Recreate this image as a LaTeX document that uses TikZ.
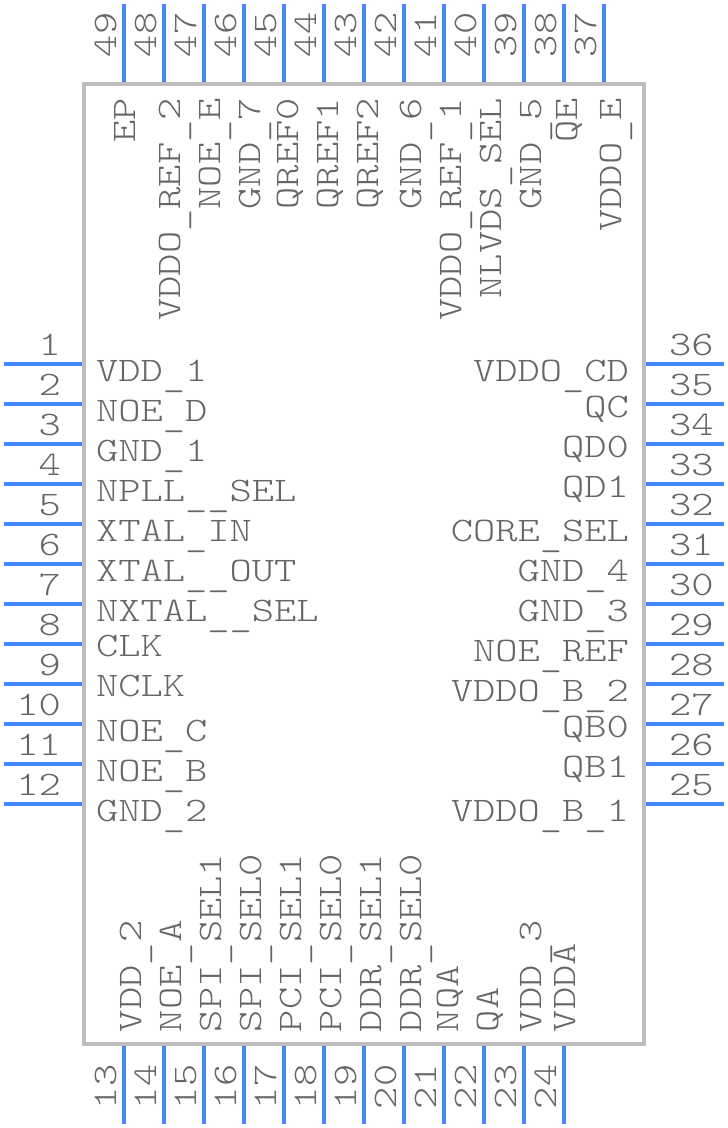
\documentclass[tikz,border=0pt]{standalone}
\usepackage{fontspec}
\setmonofont{Latin Modern Mono Light}[FakeStretch=1.233]
\definecolor{pinblue}{HTML}{4488F5}
\definecolor{bodygray}{HTML}{BDBDBD}
\definecolor{txtgray}{HTML}{666666}
\newcommand{\usc}{\raisebox{-5pt}{\_}}
\tikzset{
  pinline/.style={draw=pinblue,line width=3.6pt},
  body/.style={draw=bodygray,line width=4pt,fill=none,inner sep=0pt,outer sep=0pt,minimum width=560pt,minimum height=960pt,anchor=north west},
  txt/.style={text=txtgray,inner sep=0pt,outer sep=0pt,font=\ttfamily\fontsize{34.4}{36}\selectfont},
  ll/.style={txt,anchor=base west},
  lr/.style={txt,anchor=base east},
  vs/.style={txt,rotate=90,anchor=base west},
  ve/.style={txt,rotate=90,anchor=base east}
}
\begin{document}
\begin{tikzpicture}[x=1pt,y=-1pt]
\useasboundingbox (0,0) rectangle (728,1128);
% pins
\foreach \n [evaluate=\n as \yy using {364+40*(\n-1)}] in {1,...,12} {
  \coordinate (po\n) at (4,\yy); \coordinate (pi\n) at (84,\yy);
  \draw[pinline] (po\n) -- (pi\n);
  \node[lr] (n\n) at (61,\yy-9) {\n};
}
\foreach \n [evaluate=\n as \yy using {364+40*(36-\n)}] in {25,...,36} {
  \coordinate (po\n) at (724,\yy); \coordinate (pi\n) at (644,\yy);
  \draw[pinline] (po\n) -- (pi\n);
  \node[ll] (n\n) at (669,\yy-9) {\n};
}
\foreach \n [evaluate=\n as \xx using {124+40*(\n-13)}] in {13,...,24} {
  \coordinate (po\n) at (\xx,1124); \coordinate (pi\n) at (\xx,1044);
  \draw[pinline] (po\n) -- (pi\n);
  \node[vs] (n\n) at (\xx-8,1109) {\n};
}
\foreach \n [evaluate=\n as \xx using {124+40*(49-\n)}] in {37,...,49} {
  \coordinate (po\n) at (\xx,4); \coordinate (pi\n) at (\xx,84);
  \draw[pinline] (po\n) -- (pi\n);
  \node[vs] (n\n) at (\xx-8,57) {\n};
}
\node[body] (ic) at (84,84) {};
% left labels
\foreach \n/\yy/\t in {1/381/VDD\usc 1,2/421/NOE\usc D,3/461/GND\usc 1,4/501/NPLL\usc\usc SEL,5/541/XTAL\usc IN,6/581/XTAL\usc\usc OUT,7/621/NXTAL\usc\usc SEL,8/656/CLK,9/696/NCLK,10/741/NOE\usc C,11/781/NOE\usc B,12/821/GND\usc 2}
  \node[ll] (l\n) at (96,\yy) {\t};
% right labels
\foreach \n/\yy/\t in {36/381/VDDO\usc CD,35/417/QC,34/457/QD0,33/497/QD1,32/541/CORE\usc SEL,31/581/GND\usc 4,30/621/GND\usc 3,29/661/NOE\usc REF,28/701/VDDO\usc B\usc 2,27/737/QB0,26/777/QB1,25/821/VDDO\usc B\usc 1}
  \node[lr] (l\n) at (629,\yy) {\t};
% top labels
\foreach \n/\xx/\t in {49/135/EP,48/180/VDDO\usc REF\usc 2,47/220/NOE\usc E,46/260/GND\usc 7,45/298/QREF0,44/338/QREF1,43/378/QREF2,42/421/GND\usc 6,41/461/VDDO\usc REF\usc 1,40/501/NLVDS\usc SEL,39/541/GND\usc 5,38/577/QE,37/621/VDDO\usc E}
  \node[ve] (l\n) at (\xx,98) {\t};
% bottom labels
\foreach \n/\xx/\t in {13/141.5/VDD\usc 2,14/181.5/NOE\usc A,15/221.5/SPI\usc SEL1,16/261.5/SPI\usc SEL0,17/301.5/PCI\usc SEL1,18/341.5/PCI\usc SEL0,19/381.5/DDR\usc SEL1,20/421.5/DDR\usc SEL0,21/458/NQA,22/498/QA,23/541/VDD\usc 3,24/575.5/VDDA}
  \node[vs] (l\n) at (\xx,1032) {\t};
\end{tikzpicture}
\end{document}
